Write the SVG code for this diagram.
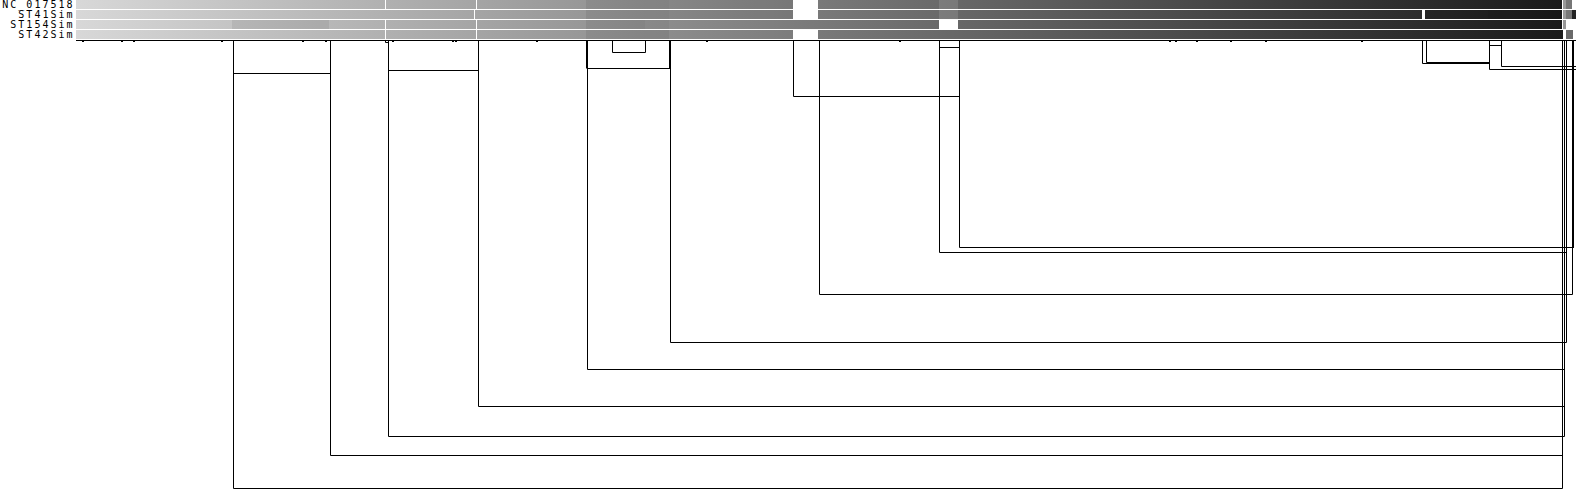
<svg xmlns="http://www.w3.org/2000/svg" width="1576" height="493" viewBox="0 0 1576 493">
<style>
.lbl{font-family:"DejaVu Sans Mono","Liberation Mono",monospace;font-size:10px;letter-spacing:2px;fill:#000;text-anchor:end}
.ln{fill:none;stroke:#000;stroke-width:1}
.w{fill:#fff}
.dk{fill:#000;fill-opacity:0.07}
.dk2{fill:#000;fill-opacity:0.04}
.lt{fill:#fff;fill-opacity:0.12}
.tk{fill:#000}
</style>
<defs>
<linearGradient id="g" gradientUnits="userSpaceOnUse" x1="76" y1="0" x2="1562" y2="0">
<stop offset="0" stop-color="#d8d8d8"/>
<stop offset="1" stop-color="#1a1a1a"/>
</linearGradient>
</defs>
<rect width="1576" height="493" fill="#fff"/>
<g id="labels">
<text class="lbl" x="74.5" y="8">NC_017518</text>
<text class="lbl" x="74.5" y="18">ST41Sim</text>
<text class="lbl" x="74.5" y="28">ST154Sim</text>
<text class="lbl" x="74.5" y="38">ST42Sim</text>
</g>
<g id="track-NC_017518">
<rect x="76" y="0" width="1486" height="9" fill="url(#g)"/>
<rect class="w" x="385" y="0" width="1" height="9"/>
<rect class="w" x="476" y="0" width="1" height="9"/>
<rect class="dk" x="586" y="0" width="83" height="9"/>
<rect class="dk2" x="669" y="0" width="124" height="9"/>
<rect class="w" x="793" y="0" width="25" height="9"/>
<rect class="lt" x="939" y="0" width="19" height="9"/>
<rect x="1563" y="0" width="3" height="9" fill="#9a9a9a"/>
<rect x="1566" y="0" width="6" height="9" fill="#777"/>
</g>
<g id="track-ST41Sim">
<rect x="76" y="10" width="1486" height="9" fill="url(#g)"/>
<rect class="w" x="474" y="10" width="1" height="9"/>
<rect class="dk" x="586" y="10" width="83" height="9"/>
<rect class="dk2" x="669" y="10" width="124" height="9"/>
<rect class="w" x="793" y="10" width="25" height="9"/>
<rect class="lt" x="939" y="10" width="19" height="9"/>
<rect class="w" x="1422" y="10" width="3" height="9"/>
<rect x="1425" y="10" width="137" height="9" fill="#000" fill-opacity="0.12"/>
<rect x="1488" y="10" width="12" height="9" fill="#000" fill-opacity="0.05"/>
<rect x="1563" y="10" width="3" height="9" fill="#9a9a9a"/>
<rect x="1566" y="10" width="6" height="9" fill="#777"/>
<rect x="1572" y="10" width="4" height="9" fill="#222"/>
</g>
<g id="track-ST154Sim">
<rect x="76" y="20" width="1486" height="9" fill="url(#g)"/>
<rect class="dk" x="232" y="20" width="97" height="9"/>
<rect class="w" x="385" y="20" width="1" height="9"/>
<rect class="w" x="476" y="20" width="1" height="9"/>
<rect class="dk" x="586" y="20" width="59" height="9"/>
<rect class="dk2" x="645" y="20" width="24" height="9"/>
<rect class="w" x="939" y="20" width="19" height="9"/>
<rect x="1563" y="20" width="3" height="9" fill="#999"/>
</g>
<g id="track-ST42Sim">
<rect x="76" y="30" width="1487" height="9" fill="url(#g)"/>
<rect class="w" x="385" y="30" width="1" height="9"/>
<rect class="w" x="476" y="30" width="1" height="9"/>
<rect class="dk" x="586" y="30" width="83" height="9"/>
<rect class="w" x="793" y="30" width="25" height="9"/>
<rect x="1566" y="30" width="7" height="9" fill="#6a6a6a"/>
</g>
<g id="axis">
<rect x="76" y="40" width="1500" height="1" fill="#000"/>
<rect class="tk" x="82" y="40" width="2" height="2"/>
<rect class="tk" x="121" y="40" width="2" height="2"/>
<rect class="tk" x="133" y="40" width="2" height="2"/>
<rect class="tk" x="221" y="40" width="2" height="2"/>
<rect class="tk" x="302" y="40" width="2" height="2"/>
<rect class="tk" x="325" y="40" width="2" height="2"/>
<rect class="tk" x="392" y="40" width="2" height="2"/>
<rect class="tk" x="452" y="40" width="2" height="2"/>
<rect class="tk" x="455" y="40" width="2" height="2"/>
<rect class="tk" x="536" y="40" width="2" height="2"/>
<rect class="tk" x="706" y="40" width="2" height="2"/>
<rect class="tk" x="899" y="40" width="2" height="2"/>
<rect class="tk" x="1169" y="40" width="2" height="2"/>
<rect class="tk" x="1175" y="40" width="2" height="2"/>
<rect class="tk" x="1196" y="40" width="2" height="2"/>
<rect class="tk" x="1230" y="40" width="2" height="2"/>
<rect class="tk" x="1265" y="40" width="2" height="2"/>
<rect class="tk" x="1361" y="40" width="2" height="2"/>
<path class="ln" d="M385.5 40V42.5H388.5"/>
</g>
<g id="connectors">
<path class="ln" d="M233.5 40V488.5H1562.5V40"/>
<path class="ln" d="M233.5 73.5H330.5"/>
<path class="ln" d="M330.5 40V455.5H1562.5"/>
<path class="ln" d="M388.5 40V436.5H1564.5V40"/>
<path class="ln" d="M388.5 70.5H478.5"/>
<path class="ln" d="M478.5 40V406.5H1564.5"/>
<path class="ln" d="M587.5 40V369.5H1564.5"/>
<path class="ln" d="M586.5 40V68.5"/>
<path class="ln" d="M587.5 68.5H670.5"/>
<path class="ln" d="M670.5 40V342.5H1566.5V40"/>
<path class="ln" d="M669.5 40V68.5"/>
<path class="ln" d="M612.5 40V52.5H645.5V40"/>
<path class="ln" d="M793.5 40V96.5H959.5"/>
<path class="ln" d="M819.5 40V294.5H1572.5V247"/>
<path class="ln" d="M939.5 40V252.5H1566.5"/>
<path class="ln" d="M939.5 47.5H959.5"/>
<path class="ln" d="M959.5 40V247.5H1573"/>
<rect x="1572" y="40" width="2" height="208" fill="#000"/>
<path class="ln" d="M1422.5 40V63.5H1489.5"/>
<path class="ln" d="M1426.5 40V62.5H1489.5"/>
<path class="ln" d="M1489.5 40V69.5H1576"/>
<path class="ln" d="M1501.5 40V66.5H1576"/>
<path class="ln" d="M1489.5 45.5H1501.5"/>
</g>
</svg>
